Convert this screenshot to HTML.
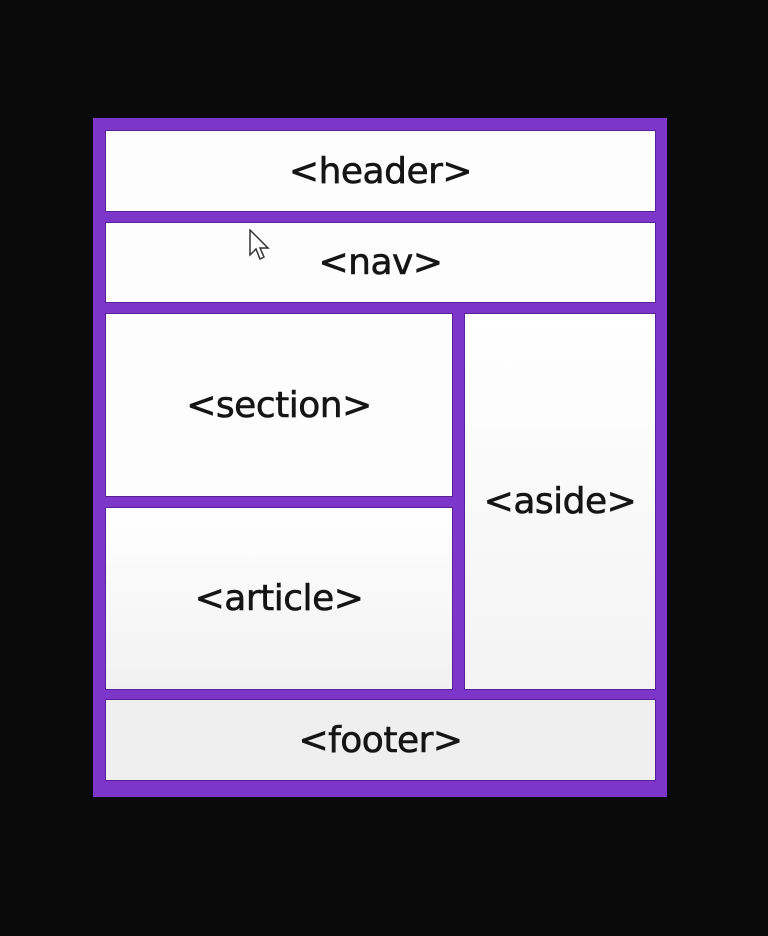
<!DOCTYPE html>
<html><head><style>
body{margin:0;width:768px;height:936px;background:#0b0a0b;position:relative;overflow:hidden;font-family:"DejaVu Sans","Liberation Sans",sans-serif}
.o{position:absolute;left:93px;top:118px;width:574px;height:679px;background:#7c36c9}
.b{position:absolute;background:#fdfdfd;display:flex;align-items:center;justify-content:center;font-size:36px;color:#151515;border:1px solid #5a2099;box-sizing:border-box;letter-spacing:-0.5px;-webkit-text-stroke:0.6px #151515}
</style></head><body>
<div class="o"></div>
<div class="b" style="left:105px;top:130px;width:551px;height:82px">&lt;header&gt;</div>
<div class="b" style="left:105px;top:222px;width:551px;height:81px">&lt;nav&gt;</div>
<div class="b" style="left:105px;top:313px;width:348px;height:184px">&lt;section&gt;</div>
<div class="b" style="left:105px;top:507px;width:348px;height:183px;background:linear-gradient(#fff,#f1f1f1)">&lt;article&gt;</div>
<div class="b" style="left:464px;top:313px;width:192px;height:377px;background:linear-gradient(#fff,#f3f3f3)">&lt;aside&gt;</div>
<div class="b" style="left:105px;top:699px;width:551px;height:82px;background:#efefef">&lt;footer&gt;</div>
<svg style="position:absolute;left:249px;top:229px" width="22" height="36" viewBox="0 0 22 36"><path d="M1 1 L1 26 L7 20 L11 30 L15 28 L11 19 L19 19 Z" fill="#fff" stroke="#333" stroke-width="1.5"/></svg>
</body></html>
